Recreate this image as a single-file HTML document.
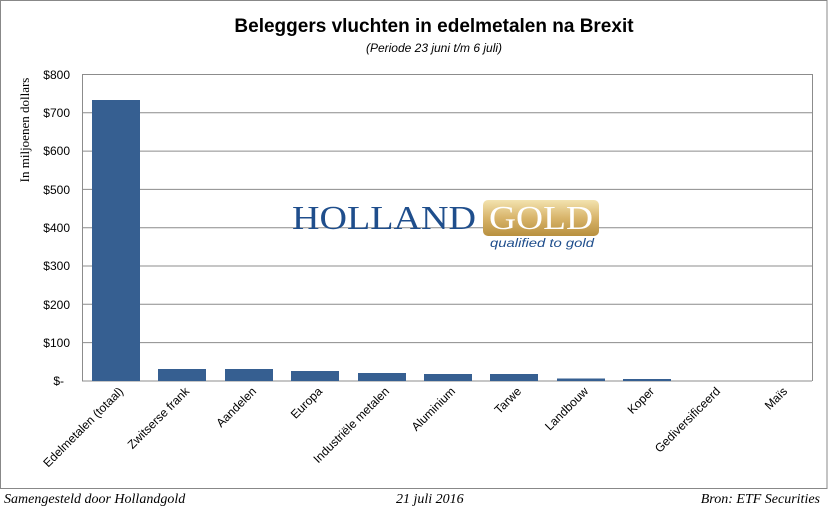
<!DOCTYPE html>
<html><head><meta charset="utf-8"><style>
body{margin:0;background:#fff;}
svg{display:block;font-family:"Liberation Sans",sans-serif;}
</style></head><body>
<svg width="828" height="512" viewBox="0 0 828 512" xmlns="http://www.w3.org/2000/svg">
<rect x="0.5" y="0.5" width="826.5" height="488" fill="#fff" stroke="#888" stroke-width="1"/>
<text x="434" y="32" text-anchor="middle" font-size="19" font-weight="bold" fill="#000">Beleggers vluchten in edelmetalen na Brexit</text>
<text x="434" y="52" text-anchor="middle" font-size="12" font-style="italic" fill="#000">(Periode 23 juni t/m 6 juli)</text>
<g stroke="#8c8c8c" stroke-width="1">
<line x1="82" y1="74.5" x2="812" y2="74.5"/>
<line x1="82" y1="112.8" x2="812" y2="112.8"/>
<line x1="82" y1="151.1" x2="812" y2="151.1"/>
<line x1="82" y1="189.4" x2="812" y2="189.4"/>
<line x1="82" y1="227.7" x2="812" y2="227.7"/>
<line x1="82" y1="266" x2="812" y2="266"/>
<line x1="82" y1="304.3" x2="812" y2="304.3"/>
<line x1="82" y1="342.6" x2="812" y2="342.6"/>
<line x1="82" y1="381" x2="812" y2="381"/>
<line x1="82.5" y1="74" x2="82.5" y2="381"/>
<line x1="812.5" y1="74" x2="812.5" y2="381"/>
</g>
<g font-size="12" fill="#000" text-anchor="end">
<text x="70" y="79">$800</text><text x="70" y="117">$700</text><text x="70" y="155">$600</text>
<text x="70" y="194">$500</text><text x="70" y="232">$400</text><text x="70" y="270">$300</text>
<text x="70" y="309">$200</text><text x="70" y="347">$100</text><text x="64" y="385">$-</text>
</g>
<text transform="translate(29,130) rotate(-90)" text-anchor="middle" font-size="13" font-family="Liberation Serif,serif">In miljoenen dollars</text>
<g fill="#365f91">
<rect x="92" y="100" width="48" height="281"/>
<rect x="158" y="369" width="48" height="12"/>
<rect x="225" y="369" width="48" height="12"/>
<rect x="291" y="371" width="48" height="10"/>
<rect x="358" y="373" width="48" height="8"/>
<rect x="424" y="374" width="48" height="7"/>
<rect x="490" y="374" width="48" height="7"/>
<rect x="557" y="378.5" width="48" height="2.5"/>
<rect x="623" y="379" width="48" height="2"/>
</g>
<g font-size="12" fill="#000" text-anchor="end">
<text transform="translate(124,392) rotate(-45)">Edelmetalen (totaal)</text>
<text transform="translate(190,392) rotate(-45)">Zwitserse frank</text>
<text transform="translate(257,392) rotate(-45)">Aandelen</text>
<text transform="translate(323,392) rotate(-45)">Europa</text>
<text transform="translate(390,392) rotate(-45)">Industriële metalen</text>
<text transform="translate(456,392) rotate(-45)">Aluminium</text>
<text transform="translate(522,392) rotate(-45)">Tarwe</text>
<text transform="translate(589,392) rotate(-45)">Landbouw</text>
<text transform="translate(655,392) rotate(-45)">Koper</text>
<text transform="translate(721,392) rotate(-45)">Gediversificeerd</text>
<text transform="translate(788,392) rotate(-45)">Maïs</text>
</g>
<text x="292" y="229" font-family="Liberation Serif,serif" font-size="34" fill="#1f4e8c" textLength="184" lengthAdjust="spacingAndGlyphs">HOLLAND</text>
<defs><linearGradient id="g" x1="0" y1="0" x2="0" y2="1"><stop offset="0" stop-color="#f3e3b0"/><stop offset="0.5" stop-color="#d8b46a"/><stop offset="1" stop-color="#b8903f"/></linearGradient></defs>
<rect x="483" y="200" width="116" height="36" rx="5" fill="url(#g)"/>
<text x="489" y="229" font-family="Liberation Serif,serif" font-size="34" fill="#fff" textLength="104" lengthAdjust="spacingAndGlyphs">GOLD</text>
<text x="490" y="247" font-size="12" font-style="italic" fill="#1f4e8c" textLength="104" lengthAdjust="spacingAndGlyphs">qualified to gold</text>
<g font-family="Liberation Serif,serif" font-style="italic" font-size="14" fill="#000">
<text x="4" y="503">Samengesteld door Hollandgold</text>
<text x="396" y="503">21 juli 2016</text>
<text x="820" y="503" text-anchor="end">Bron: ETF Securities</text>
</g>
</svg>
</body></html>
